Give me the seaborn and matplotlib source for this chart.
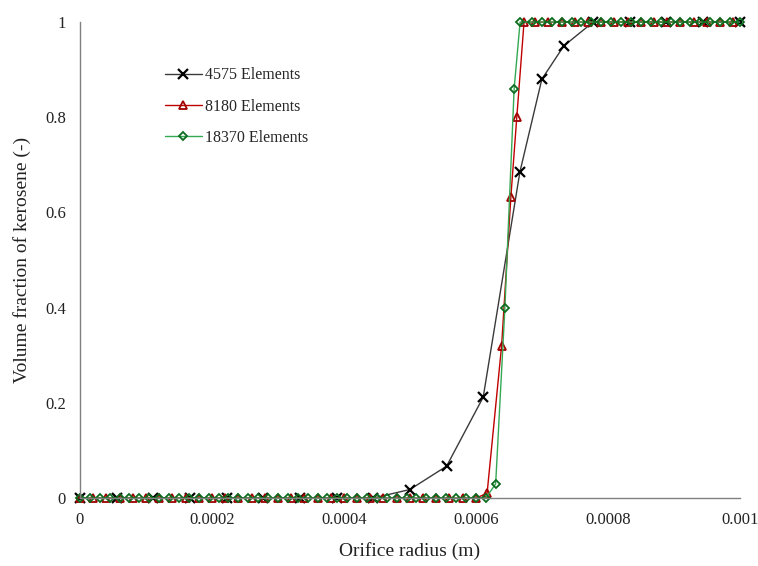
import numpy as np
import pandas as pd
import matplotlib
matplotlib.use("Agg")
import matplotlib.pyplot as plt
import seaborn as sns

# Orifice radius positions (micrometres) and kerosene volume fraction per mesh
r_4575 = [0, 55.6, 111.1, 166.7, 222.2, 277.8, 333.3, 388.9, 444.4, 500,
          555.6, 611.1, 666.7, 700, 733.3, 777.8, 833.3, 888.9, 944.4, 1000]
vf_4575 = [0, 0, 0, 0, 0, 0, 0, 0, 0, 0.018,
           0.067, 0.212, 0.685, 0.88, 0.95, 1, 1, 1, 1, 1]

r_8180 = [0, 20, 40, 60, 80, 100, 120, 140, 160, 180, 200, 220, 240, 260, 280,
          300, 320, 340, 360, 380, 400, 420, 440, 460, 480, 500, 520, 540, 560,
          580, 600, 617, 639, 653, 662, 673, 690, 710, 730, 750, 770, 790, 810,
          830, 850, 870, 890, 910, 930, 950, 970, 990]
vf_8180 = [0] * 31 + [0.01, 0.32, 0.632, 0.80, 1.0] + [1] * 16

r_18370 = [0, 15, 30, 45, 60, 75, 90, 105, 120, 135, 150, 165, 180, 195, 210,
           225, 240, 255, 270, 285, 300, 315, 330, 345, 360, 375, 390, 405, 420,
           435, 450, 465, 480, 495, 510, 525, 540, 555, 570, 585, 600, 615, 630,
           644, 658, 667, 685, 700, 715, 730, 745, 760, 775, 790, 805, 820, 835,
           850, 865, 880, 895, 910, 925, 940, 955, 970, 985, 1000]
vf_18370 = [0] * 42 + [0.03, 0.40, 0.86, 1.0] + [1] * 22

labels = ["4575 Elements", "8180 Elements", "18370 Elements"]

sns.set_style("white")
plt.rcParams["font.family"] = ["Liberation Serif", "DejaVu Serif"]

fig = plt.figure(figsize=(7.58, 5.66), dpi=100)
ax = fig.add_axes([0.1055, 0.120, 0.8705, 0.841])

df_a = pd.DataFrame({"r": np.array(r_4575) * 1e-6, "vf": vf_4575})
df_b = pd.DataFrame({"r": np.array(r_8180) * 1e-6, "vf": vf_8180})
df_c = pd.DataFrame({"r": np.array(r_18370) * 1e-6, "vf": vf_18370})

sns.lineplot(data=df_a, x="r", y="vf", ax=ax, color="#3a3a3a", lw=1.0,
             marker="x", markersize=7, markeredgewidth=1.6,
             markeredgecolor="black", label=labels[0], clip_on=False)
sns.lineplot(data=df_b, x="r", y="vf", ax=ax, color="#c00000", lw=1.0,
             marker="^", markersize=6, markeredgewidth=1.3,
             markerfacecolor="none", markeredgecolor="#a00000",
             label=labels[1], clip_on=False)
sns.lineplot(data=df_c, x="r", y="vf", ax=ax, color="#34a853", lw=1.0,
             marker="D", markersize=4.5, markeredgewidth=1.3,
             markerfacecolor="none", markeredgecolor="#0b6b1e",
             label=labels[2], clip_on=False)

ax.set_xlim(0, 0.001)
ax.set_ylim(0, 1)
ax.set_xticks([0, 0.0002, 0.0004, 0.0006, 0.0008, 0.001])
ax.set_xticklabels(["0", "0.0002", "0.0004", "0.0006", "0.0008", "0.001"])
ax.set_yticks([0, 0.2, 0.4, 0.6, 0.8, 1])
ax.set_yticklabels(["0", "0.2", "0.4", "0.6", "0.8", "1"])
ax.tick_params(axis="both", length=0, labelsize=12, colors="#222222")
ax.tick_params(axis="x", pad=10)
ax.tick_params(axis="y", pad=10)

for side in ["top", "right"]:
    ax.spines[side].set_visible(False)
for side in ["left", "bottom"]:
    ax.spines[side].set_color("#808080")
    ax.spines[side].set_linewidth(1.0)

ax.set_xlabel("Orifice radius (m)", fontsize=14, labelpad=10, color="#222222")
ax.set_ylabel("Volume fraction of kerosene (-)", fontsize=14, labelpad=10,
              color="#222222")

ax.legend(loc="upper left", bbox_to_anchor=(0.207, 0.895),
          bbox_transform=fig.transFigure, frameon=False, fontsize=11.5,
          borderpad=0, labelspacing=0.95, handlelength=2.3, handletextpad=0.2)

plt.savefig("out.png", dpi=100)
